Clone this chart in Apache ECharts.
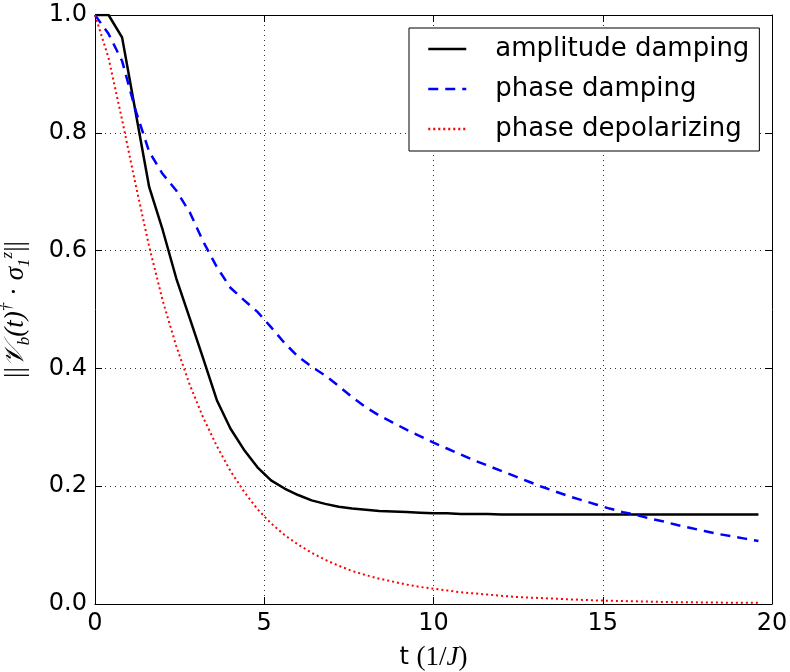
<!DOCTYPE html>
<html>
<head>
<meta charset="utf-8">
<script src="https://cdn.jsdelivr.net/npm/echarts@6/dist/echarts.min.js"></script>
<style>html,body{margin:0;padding:0;background:#fff}#c{width:790px;height:672px}</style>
</head>
<body>
<div id="c"></div>
<script>
var tValues = [0,0.4,0.8,1.2,1.6,2.0,2.4,2.8,3.2,3.6,4.0,4.4,4.8,5.2,5.6,6.0,6.4,6.8,7.2,7.6,8.0,8.4,8.8,9.2,9.6,10.0,10.4,10.8,11.2,11.6,12.0,12.4,12.8,13.2,13.6,14.0,14.4,14.8,15.2,15.6,16.0,16.4,16.8,17.2,17.6,18.0,18.4,18.8,19.2,19.6];
var amplitudeDamping = [1.0,1.0,0.962,0.835,0.708,0.635,0.553,0.485,0.416,0.346,0.298,0.262,0.232,0.210,0.196,0.185,0.176,0.170,0.165,0.162,0.160,0.158,0.157,0.156,0.155,0.154,0.154,0.153,0.153,0.153,0.152,0.152,0.152,0.152,0.152,0.152,0.152,0.152,0.152,0.152,0.152,0.152,0.152,0.152,0.152,0.152,0.152,0.152,0.152,0.152];
var phaseDamping = [1.0,0.968,0.922,0.838,0.768,0.730,0.702,0.665,0.615,0.572,0.537,0.516,0.496,0.470,0.443,0.420,0.403,0.388,0.370,0.351,0.334,0.320,0.308,0.296,0.285,0.274,0.264,0.254,0.244,0.235,0.226,0.217,0.208,0.199,0.191,0.183,0.176,0.169,0.162,0.156,0.151,0.145,0.140,0.134,0.129,0.124,0.119,0.115,0.111,0.107];
var phaseDepolarizing = [1.0,0.927,0.822,0.712,0.607,0.515,0.438,0.372,0.316,0.268,0.226,0.191,0.161,0.137,0.117,0.101,0.087,0.075,0.065,0.056,0.049,0.043,0.038,0.033,0.029,0.026,0.023,0.020,0.018,0.016,0.014,0.012,0.011,0.010,0.009,0.008,0.007,0.006,0.0055,0.005,0.0045,0.004,0.0035,0.003,0.003,0.0025,0.0025,0.002,0.002,0.002];
var seriesNames = ['amplitude damping','phase damping','phase depolarizing'];
var xTicks = [0,5,10,15,20];
var yTicks = [0.0,0.2,0.4,0.6,0.8,1.0];

function pairs(ys){ return tValues.map(function(t,i){ return [t, ys[i]]; }); }

var chart = echarts.init(document.getElementById('c'), null, {renderer:'canvas'});
var FONT = 'DejaVu Sans';
var MATH = 'Liberation Serif';
var gridLine = {show:true, lineStyle:{color:'#000', type:[1,4], width:1, opacity:0.8}};
function axisCommon(){
  return {
    axisLine:{show:true, onZero:false, lineStyle:{color:'#000', width:1}},
    axisTick:{show:true, inside:true, length:7, lineStyle:{color:'#000', width:1}}
  };
}
var option = {
  animation:false,
  backgroundColor:'#fff',
  grid:{left:95, right:18, top:15, bottom:68, show:false, containLabel:false, outerBoundsMode:'none'},
  legend:{
    orient:'vertical', left:409, top:28,
    data:seriesNames,
    itemWidth:38, itemHeight:14, itemGap:14,
    padding:[8,10,9,18],
    borderColor:'#000', borderWidth:1, borderRadius:0,
    backgroundColor:'#fff',
    itemStyle:{opacity:0, borderWidth:0},
    lineStyle:{width:2.5},
    textStyle:{fontFamily:FONT, fontSize:26, color:'#000', padding:[0,0,0,24]}
  },
  xAxis:[
    Object.assign(axisCommon(), {
      type:'value', min:0, max:20, interval:5, position:'bottom',
      axisLabel:{fontFamily:FONT, fontSize:24, color:'#000', margin:8,
        formatter:function(v){ return xTicks.indexOf(v)>=0 ? String(v) : ''; }},
      splitLine:gridLine,
      name:'{n|t }{m|(1/}{i|J}{m|)}', nameLocation:'middle', nameGap:40,
      nameTextStyle:{rich:{
        n:{fontFamily:FONT, fontSize:24, color:'#000'},
        m:{fontFamily:MATH, fontSize:27, color:'#000'},
        i:{fontFamily:MATH, fontSize:27, fontStyle:'italic', color:'#000'}
      }}
    }),
    Object.assign(axisCommon(), {
      type:'value', min:0, max:20, interval:5, position:'top',
      axisLabel:{show:false}, splitLine:{show:false}
    })
  ],
  yAxis:[
    Object.assign(axisCommon(), {
      type:'value', min:0, max:1, interval:0.2, position:'left',
      axisLabel:{fontFamily:FONT, fontSize:24, color:'#000', margin:8,
        formatter:function(v){ return v.toFixed(1); }},
      splitLine:gridLine,
      name:'{u|||}{a|𝒱}{sb|b}{a|(t)}{sp|†}{u| · }{a|σ}{sb|1}{sp|z}{u|||}', nameLocation:'middle', nameGap:62,
      nameTextStyle:{rich:{
        u:{fontFamily:MATH, fontSize:27, color:'#000', lineHeight:34, verticalAlign:'middle'},
        a:{fontFamily:MATH, fontSize:27, fontStyle:'italic', color:'#000', lineHeight:34, verticalAlign:'middle'},
        sb:{fontFamily:MATH, fontSize:17, fontStyle:'italic', color:'#000', verticalAlign:'bottom', lineHeight:34},
        sp:{fontFamily:MATH, fontSize:17, fontStyle:'italic', color:'#000', verticalAlign:'top', lineHeight:34}
      }}
    }),
    Object.assign(axisCommon(), {
      type:'value', min:0, max:1, interval:0.2, position:'right',
      axisLabel:{show:false}, splitLine:{show:false}
    })
  ],
  series:[
    {name:seriesNames[0], type:'line', data:pairs(amplitudeDamping), showSymbol:false, symbol:'none',
      lineStyle:{color:'#000', width:2.5, type:'solid'}, itemStyle:{color:'#000'}},
    {name:seriesNames[1], type:'line', data:pairs(phaseDamping), showSymbol:false, symbol:'none',
      lineStyle:{color:'#0000ff', width:2.5, type:[10,7]}, itemStyle:{color:'#0000ff'}},
    {name:seriesNames[2], type:'line', data:pairs(phaseDepolarizing), showSymbol:false, symbol:'none',
      lineStyle:{color:'#ff0000', width:2, type:[2,3]}, itemStyle:{color:'#ff0000'}}
  ]
};
chart.setOption(option);
</script>
</body>
</html>
